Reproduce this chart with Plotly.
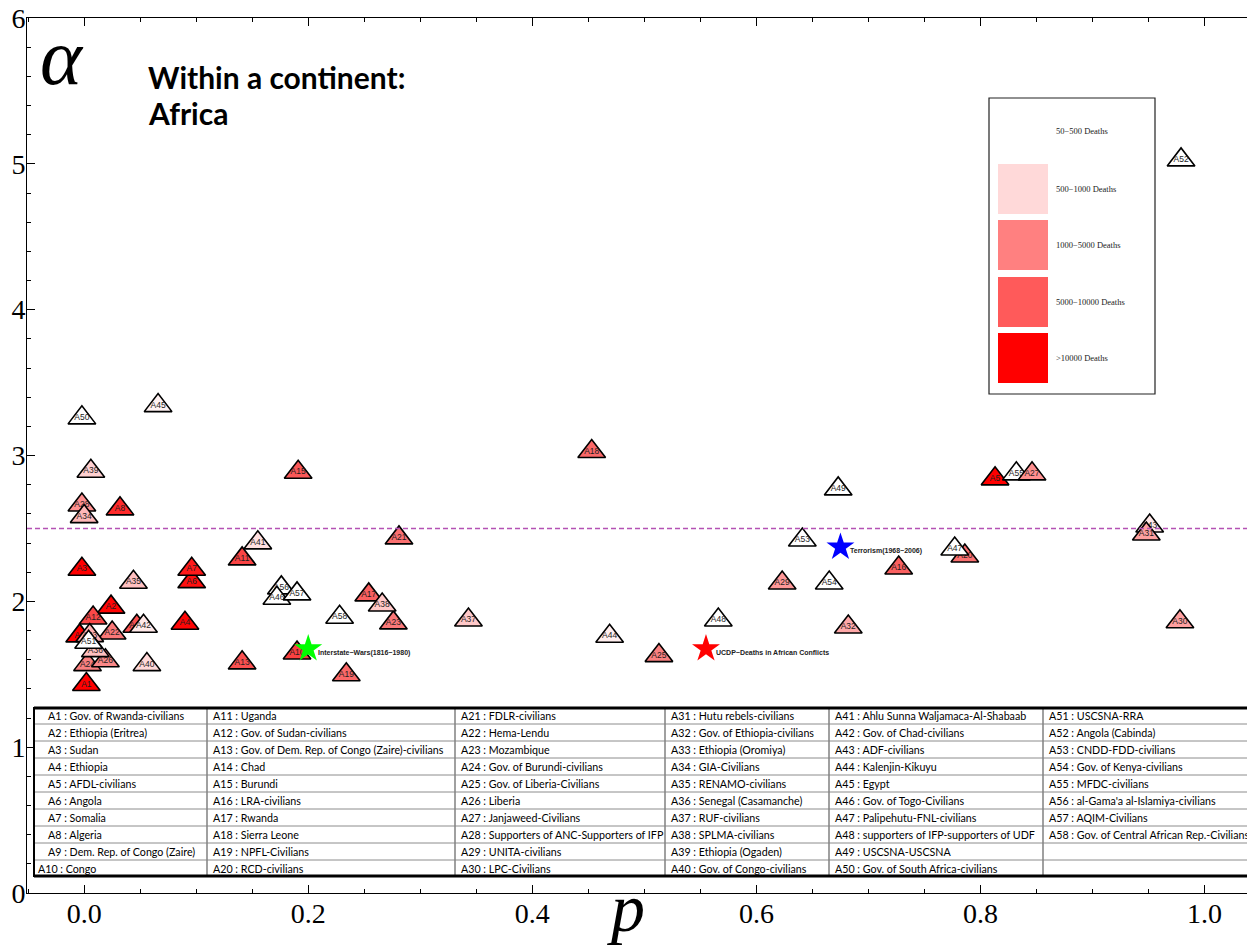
import plotly.graph_objects as go

# ---------------- data ----------------
labels = ["A1", "A2", "A3", "A4", "A5", "A6", "A7", "A8", "A9", "A10",
          "A11", "A12", "A13", "A14", "A15", "A16", "A17", "A18", "A19", "A20",
          "A21", "A22", "A23", "A24", "A25", "A26", "A27", "A28", "A29", "A30",
          "A31", "A32", "A33", "A34", "A35", "A36", "A37", "A38", "A39", "A40",
          "A41", "A42", "A43", "A44", "A45", "A46", "A47", "A48", "A49", "A50",
          "A51", "A52", "A53", "A54", "A55", "A56", "A57", "A58"]

p_vals = [0.002, 0.024, -0.002, 0.090, 0.813, 0.096, 0.096, 0.032, -0.004, 0.190,
          0.141, 0.008, 0.141, 0.047, 0.191, 0.727, 0.254, 0.453, 0.234, 0.786,
          0.281, 0.025, 0.276, 0.003, 0.513, 0.019, 0.846, -0.002, 0.623, 0.978,
          0.948, 0.682, 0.005, 0.000, 0.044, 0.010, 0.343, 0.266, 0.006, 0.056,
          0.155, 0.053, 0.951, 0.469, 0.066, 0.172, 0.777, 0.566, 0.673, -0.002,
          0.004, 0.979, 0.641, 0.665, 0.832, 0.176, 0.190, 0.228]

alpha_vals = [1.430, 1.960, 2.220, 1.850, 2.840, 2.135, 2.220, 2.634, 1.763, 1.646,
              2.291, 1.886, 1.578, 1.829, 2.885, 2.229, 2.044, 3.027, 1.497, 2.311,
              2.435, 1.783, 1.852, 1.566, 1.628, 1.593, 2.874, 2.661, 2.126, 1.860,
              2.462, 1.824, 1.765, 2.581, 2.131, 1.662, 1.872, 1.975, 2.892, 1.566,
              2.401, 1.829, 2.517, 1.761, 3.342, 2.021, 2.359, 1.872, 2.771, 3.258,
              1.719, 5.027, 2.421, 2.126, 2.874, 2.092, 2.051, 1.891]

names = ["Gov. of Rwanda-civilians", "Ethiopia (Eritrea)", "Sudan", "Ethiopia",
         "AFDL-civilians", "Angola", "Somalia", "Algeria", "Dem. Rep. of Congo (Zaire)",
         "Congo", "Uganda", "Gov. of Sudan-civilians",
         "Gov. of Dem. Rep. of Congo (Zaire)-civilians", "Chad", "Burundi",
         "LRA-civilians", "Rwanda", "Sierra Leone", "NPFL-Civilians", "RCD-civilians",
         "FDLR-civilians", "Hema-Lendu", "Mozambique", "Gov. of Burundi-civilians",
         "Gov. of Liberia-Civilians", "Liberia", "Janjaweed-Civilians",
         "Supporters of ANC-Supporters of IFP", "UNITA-civilians", "LPC-Civilians",
         "Hutu rebels-civilians", "Gov. of Ethiopia-civilians", "Ethiopia (Oromiya)",
         "GIA-Civilians", "RENAMO-civilians", "Senegal (Casamanche)", "RUF-civilians",
         "SPLMA-civilians", "Ethiopia (Ogaden)", "Gov. of Congo-civilians",
         "Ahlu Sunna Waljamaca-Al-Shabaab", "Gov. of Chad-civilians", "ADF-civilians",
         "Kalenjin-Kikuyu", "Egypt", "Gov. of Togo-Civilians", "Palipehutu-FNL-civilians",
         "supporters of IFP-supporters of UDF", "USCSNA-USCSNA",
         "Gov. of South Africa-civilians", "USCSNA-RRA", "Angola (Cabinda)",
         "CNDD-FDD-civilians", "Gov. of Kenya-civilians", "MFDC-civilians",
         "al-Gama'a al-Islamiya-civilians", "AQIM-Civilians",
         "Gov. of Central African Rep.-Civilians"]

star_names = ["Interstate\u2212Wars(1816\u22121980)", "Terrorism(1968\u22122006)",
              "UCDP\u2212Deaths in African Conflicts"]
star_p = [0.200, 0.675, 0.555]
star_alpha = [1.675, 2.372, 1.675]

legend_labels = ["50\u2212500 Deaths", "500\u22121000 Deaths", "1000\u22125000 Deaths",
                 "5000\u221210000 Deaths", ">10000 Deaths"]

# ---------------- styles ----------------
fill_colors = ["#FF0000", "#FF0505", "#FF0000", "#FF0505", "#FF0000", "#FF1010", "#FF1a1a", "#FF2a2a", "#FF0000", "#FA4040",
               "#FA4444", "#FA4848", "#FA5050", "#FA5050", "#FA5858", "#FA6060", "#FA6060", "#FA6868", "#FA6868", "#FA7070",
               "#FA7070", "#FA7878", "#FA7878", "#FA8080", "#FA8080", "#FA8888", "#FF9090", "#FF9090", "#FF9898", "#FFA0A0",
               "#FFA0A0", "#FFA8A8", "#FFB0B0", "#FFB8B8", "#FFC0C0", "#FFC0C0", "#FFC8C8", "#FFC8C8", "#FFD0D0", "#FFD8D8",
               "#FFE0E0", "#FFE8E8", "#FFE8E8", "#FFEEEE", "#FFF2F2", "#FFFFFF", "#FFFFFF", "#FFFFFF", "#FFFFFF", "#FFFFFF",
               "#FFFFFF", "#FFFFFF", "#FFFFFF", "#FFFFFF", "#FFFFFF", "#FFFFFF", "#FFFFFF", "#FFFFFF"]
star_colors = ["#00FF00", "#0000FF", "#FF0000"]
legend_colors = ["#FFFFFF", "#FFD9D9", "#FF8080", "#FF5A5A", "#FF0000"]

# page body has an 8px margin: the figure is shifted, so size it accordingly
OFF = 8
W, H = 1255 - OFF, 945 - OFF
ML, MR, MT, MB = 27 - OFF, 0, 18 - OFF, 52
PW, PH = W - ML - MR, H - MT - MB


def px(x):  # screen pixel -> paper x
    return (x - OFF - ML) / PW


def py(y):  # screen pixel -> paper y
    return (893 - y) / PH


# drawing order (later on top)
order = list(range(58))


def move_after(a, b):
    order.remove(a)
    order.insert(order.index(b) + 1, a)


move_after(30, 42)   # A31 over A43
move_after(26, 54)   # A27 over A55
move_after(45, 55)   # A46 over A56
order.remove(0)
order.append(0)      # A1 on top

fig = go.Figure()
for i in order:
    fig.add_trace(go.Scatter(
        x=[p_vals[i]], y=[alpha_vals[i]], mode="markers+text",
        marker=dict(symbol="triangle-up", size=24, color=fill_colors[i],
                    line=dict(color="black", width=1.6)),
        text=[labels[i]], textposition="middle center",
        textfont=dict(family="Liberation Sans, Arial", size=8.5, color="#1e1e1e"),
        showlegend=False, hoverinfo="text", hovertext=[names[i]], cliponaxis=False))

for k in range(3):
    fig.add_trace(go.Scatter(
        x=[star_p[k]], y=[star_alpha[k]], mode="markers",
        marker=dict(symbol="star", size=21, color=star_colors[k], line=dict(width=0)),
        showlegend=False, hoverinfo="skip"))

annotations = []
shapes = []

for k in range(3):
    annotations.append(dict(x=star_p[k], y=star_alpha[k], xref="x", yref="y",
                            text="<b>" + star_names[k] + "</b>", showarrow=False,
                            xanchor="left", yanchor="middle", xshift=8, yshift=-4,
                            font=dict(family="Liberation Sans, Arial", size=7, color="#222222")))

# dashed reference line
shapes.append(dict(type="line", xref="paper", x0=0, x1=1, yref="y", y0=2.5, y1=2.5,
                   line=dict(color="#B452B4", width=1.5, dash="5px,3px"), layer="above"))

# titles
annotations.append(dict(x=px(62), y=py(57), xref="paper", yref="paper", text="<i>\u03b1</i>",
                        showarrow=False, xanchor="center", yanchor="middle",
                        font=dict(family="Liberation Serif, Times New Roman", size=80, color="black")))
annotations.append(dict(x=px(146), y=py(77), xref="paper", yref="paper",
                        text="<b>Within a continent:</b>", showarrow=False,
                        xanchor="left", yanchor="middle",
                        font=dict(family="Lato, Carlito, Calibri", size=30, color="black")))
annotations.append(dict(x=px(146), y=py(113), xref="paper", yref="paper",
                        text="<b>Africa</b>", showarrow=False,
                        xanchor="left", yanchor="middle",
                        font=dict(family="Lato, Carlito, Calibri", size=30, color="black")))
annotations.append(dict(x=px(626), y=py(908), xref="paper", yref="paper", text="<i>p</i>",
                        showarrow=False, xanchor="center", yanchor="middle",
                        font=dict(family="Liberation Serif, Times New Roman", size=68, color="black")))

# death-range legend box
shapes.append(dict(type="rect", xref="paper", yref="paper", x0=px(989), x1=px(1155),
                   y0=py(394), y1=py(98), line=dict(color="#222222", width=1.2),
                   fillcolor="white", layer="above"))
leg_y = [131, 189, 245, 302, 358]
for k in range(5):
    if k > 0:
        shapes.append(dict(type="rect", xref="paper", yref="paper", x0=px(998), x1=px(1048),
                           y0=py(leg_y[k] + 25), y1=py(leg_y[k] - 25),
                           line=dict(width=0), fillcolor=legend_colors[k], layer="above"))
    annotations.append(dict(x=px(1054), y=py(leg_y[k]), xref="paper", yref="paper",
                            text=legend_labels[k], showarrow=False, xanchor="left",
                            yanchor="middle",
                            font=dict(family="Liberation Serif, Times New Roman", size=8.5,
                                      color="#222222")))

# table of conflict names
col_x = [34, 207, 455, 665, 829, 1043, 1253]
row_top, row_h, n_rows = 707, 17, 10
tbot = row_top + row_h * n_rows
shapes.append(dict(type="rect", xref="paper", yref="paper", x0=px(col_x[0]), x1=px(col_x[-1]),
                   y0=py(tbot), y1=py(row_top), line=dict(width=0), fillcolor="white",
                   layer="above"))
for r in range(1, n_rows):
    yy = py(row_top + r * row_h)
    shapes.append(dict(type="line", xref="paper", yref="paper", x0=px(col_x[0]), x1=px(col_x[-1]),
                       y0=yy, y1=yy, line=dict(color="#8c8c8c", width=1), layer="above"))
for c in range(1, 6):
    shapes.append(dict(type="line", xref="paper", yref="paper", x0=px(col_x[c]), x1=px(col_x[c]),
                       y0=py(tbot), y1=py(row_top), line=dict(color="#808080", width=1.5),
                       layer="above"))
shapes.append(dict(type="line", xref="paper", yref="paper", x0=px(col_x[0]), x1=px(col_x[-1]),
                   y0=py(row_top + 1), y1=py(row_top + 1), line=dict(color="black", width=3), layer="above"))
shapes.append(dict(type="line", xref="paper", yref="paper", x0=px(col_x[0]), x1=px(col_x[-1]),
                   y0=py(tbot - 1), y1=py(tbot - 1), line=dict(color="black", width=3), layer="above"))
for xx in (col_x[0], col_x[-1]):
    shapes.append(dict(type="line", xref="paper", yref="paper", x0=px(xx), x1=px(xx),
                       y0=py(tbot), y1=py(row_top), line=dict(color="black", width=2), layer="above"))

for i in range(58):
    c, r = divmod(i, n_rows)
    lead = 12 if (i < 9) else (2 if c == 0 else 4)
    annotations.append(dict(x=px(col_x[c] + lead), y=py(row_top + row_h * r + row_h / 2),
                            xref="paper", yref="paper", text=labels[i] + " : " + names[i],
                            showarrow=False, xanchor="left", yanchor="middle",
                            font=dict(family="Lato, Carlito, Calibri", size=10.7, color="black")))

axis_common = dict(showline=True, linecolor="black", linewidth=1, mirror="allticks",
                   ticks="inside", ticklen=8, tickcolor="black", tickwidth=1,
                   showgrid=False, zeroline=False, automargin=False,
                   ticklabeloverflow="allow", ticklabelstandoff=-5,
                   tickfont=dict(family="Liberation Serif, Times New Roman", size=28, color="black"))

fig.update_layout(
    width=W, height=H, autosize=False,
    margin=dict(l=ML, r=MR, t=MT, b=MB, pad=0),
    paper_bgcolor="white", plot_bgcolor="white",
    xaxis=dict(range=[-0.051, 1.045], tickvals=[0, 0.2, 0.4, 0.6, 0.8, 1.0],
               ticktext=["0.0", "0.2", "0.4", "0.6", "0.8", "1.0"],
               minor=dict(ticks="inside", ticklen=4, dtick=0.05, tick0=0, tickcolor="black",
                          showgrid=False),
               **axis_common),
    yaxis=dict(range=[0, 6], tickvals=[0, 1, 2, 3, 4, 5, 6],
               minor=dict(ticks="inside", ticklen=4, dtick=0.2, tick0=0, tickcolor="black",
                          showgrid=False),
               **axis_common),
    annotations=annotations, shapes=shapes, showlegend=False,
)

fig.write_html("out.html")
